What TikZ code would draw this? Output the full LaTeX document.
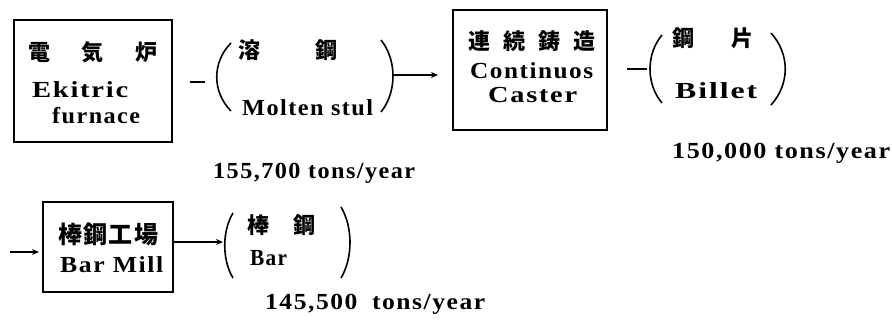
\documentclass[tikz,border=0pt]{standalone}
\usepackage{fontspec}
\usepackage{graphicx}
\usetikzlibrary{arrows.meta}
\setmainfont{Liberation Serif}
\newfontfamily\latf[LetterSpace=6]{Liberation Serif}
\newfontfamily\cjkf{Noto Sans CJK JP}
\newcommand\lt[2]{\resizebox{#1pt}{\height}{\latf\bfseries #2}}
\newcommand\cj[2]{\makebox[#1pt][s]{\cjkf\bfseries #2}}
\tikzset{
  box/.style={draw, line width=1.6pt, inner sep=0pt},
  txt/.style={inner sep=0pt, anchor=base west, font=\fontsize{23pt}{26pt}\selectfont},
  cjt/.style={inner sep=0pt, anchor=west, font=\fontsize{22pt}{25pt}\selectfont},
  paren/.style={line width=1.6pt},
  hyph/.style={line width=1.8pt},
  arr/.style={line width=1.3pt, -{Stealth[length=7pt,width=6pt]}}
}
\begin{document}
\begin{tikzpicture}[x=1pt,y=-1pt]
\useasboundingbox (0,0) rectangle (892,325);
% boxes
\node[box, minimum width=158pt, minimum height=122pt] (b1) at (93,81) {};
\node[box, minimum width=154pt, minimum height=120pt] (b2) at (530,70) {};
\node[box, minimum width=130pt, minimum height=90pt] (b3) at (108,247) {};
% box texts
\node[cjt] (t1a) at (28,52) {\cj{129}{電\hfill 気\hfill 炉}};
\node[txt] (t1b) at (32,97) {\lt{96}{Ekitric}};
\node[txt] (t1c) at (52,123) {\lt{88}{furnace}};
\node[cjt] (t2a) at (468,41) {\cj{127}{連\hfill 続\hfill 鋳\hfill 造}};
\node[txt] (t2b) at (470,78) {\lt{123}{Continuos}};
\node[txt] (t2c) at (488,102) {\lt{89}{Caster}};
\node[cjt, font=\fontsize{24pt}{27pt}\selectfont] (t3a) at (58,234) {\cj{100}{棒\hfill 鋼\hfill 工\hfill 場}};
\node[txt] (t3b) at (60,272) {\lt{103}{Bar Mill}};
% product texts
\node[cjt] (m1a) at (238,50) {\cj{99}{溶\hfill 鋼}};
\node[txt] (m1b) at (242,115) {\lt{131}{Molten stul}};
\node[cjt] (m2a) at (672,38) {\cj{81}{鋼\hfill 片}};
\node[txt] (m2b) at (675,98) {\lt{82}{Billet}};
\node[cjt] (m3a) at (247,225) {\cj{68}{棒\hfill 鋼}};
\node[txt] (m3b) at (250,265) {\lt{37}{Bar}};
% quantities
\node[txt] (q1) at (213,178) {\lt{202}{155,700 tons/year}};
\node[txt] (q2) at (672,158) {\lt{218}{150,000 tons/year}};
\node[txt] (q3) at (265,309) {\lt{220}{145,500\hspace{6pt} tons/year}};
% parentheses
\draw[paren] (231,43) .. controls (212,62) and (212,92) .. (231,111);
\draw[paren] (381,40) .. controls (397,60) and (397,92) .. (381,112);
\draw[paren] (662,35) .. controls (646,54) and (646,84) .. (662,103);
\draw[paren] (771,33) .. controls (790,54) and (790,84) .. (771,105);
\draw[paren] (233,213) .. controls (222,231) and (222,260) .. (233,278);
\draw[paren] (341,207) .. controls (353,227) and (353,258) .. (341,278);
% connectors
\coordinate (d1s) at (190,82); \coordinate (d1e) at (205,82);
\coordinate (d2s) at (627,69); \coordinate (d2e) at (647,69);
\coordinate (p1r) at (393,75); \coordinate (a1e) at (438,75);
\coordinate (s3) at (10,252); \coordinate (s3e) at (39,252);
\coordinate (p3l) at (223,242);
\draw[hyph] (d1s) -- (d1e);
\draw[hyph] (d2s) -- (d2e);
\draw[arr] (p1r) -- (a1e);
\draw[arr] (s3) -- (s3e);
\draw[arr] ([yshift=5pt]b3.east) -- (p3l);
\end{tikzpicture}
\end{document}
